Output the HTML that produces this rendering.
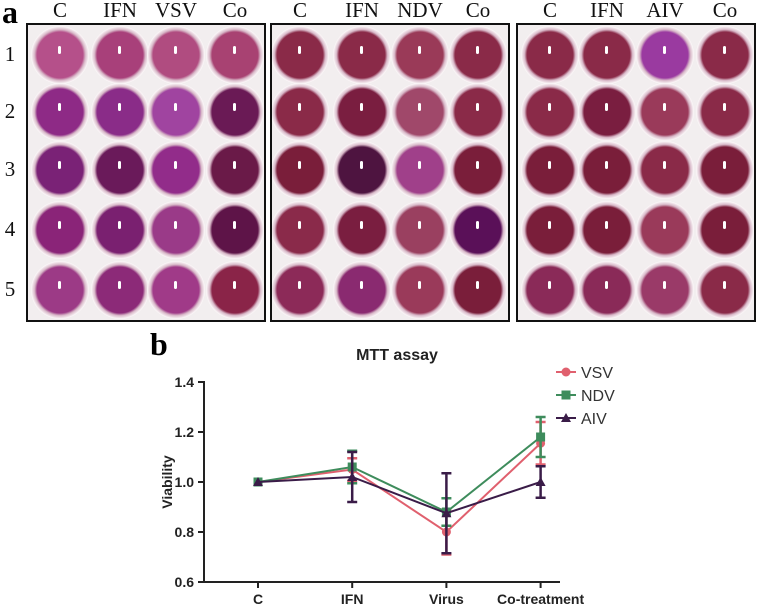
<!DOCTYPE html>
<html><head><meta charset="utf-8"><style>
body{margin:0;background:#fff;width:762px;height:604px;overflow:hidden;position:relative;font-family:"Liberation Serif",serif}
.t{position:absolute;font-size:21px;color:#111;transform:translateX(-50%)}
.plate{position:absolute;border:2px solid #111;background:#f2eeef;overflow:hidden;box-sizing:border-box}
.well{position:absolute;border-radius:50%}
</style></head><body>
<div style="position:absolute;left:2px;top:-6px;font-size:32px;font-weight:bold">a</div>
<div style="position:absolute;left:150px;top:326px;font-size:32px;font-weight:bold">b</div>
<div id="plates"></div>
<svg id="chart" width="762" height="604" style="position:absolute;left:0;top:0"></svg>
<script>
const P=document.getElementById('plates');
const panels=[{x:26,w:240,cols:[60,120,176,235],labels:['C','IFN','VSV','Co']},
{x:270,w:240,cols:[300,362,420,478],labels:['C','IFN','NDV','Co']},
{x:516,w:240,cols:[550,607,665,725],labels:['C','IFN','AIV','Co']}];
const rowsY=[55,112,170,230,290];
const colors=[
['#b5508a','#a8407a','#b04c80','#a84272','#8e2a86','#8a2c88','#a044a0','#6a1a55','#7a2276','#6a1a5a','#922c8a','#6a1a48','#8a2478','#7a2070','#9a3a88','#5e1448','#9c3a86','#8c2a78','#a03a88','#8a2448'],
['#8a2a48','#8a2a48','#9a3a58','#8a2a48','#8a2a48','#7a1e40','#a0486a','#8a2a48','#7a1e3a','#4e1440','#a0408a','#7a1e3a','#8a2a4a','#7a1e40','#9a4060','#5a1058','#8c2a58','#8a2a70','#9a3a5a','#7a1e3a'],
['#8a2a48','#8a2a48','#9a3aa0','#8a2a48','#8a2a48','#7a1e40','#9a3a5a','#8a2a48','#7a1e3a','#7a1e3a','#8a2a48','#7a1e3a','#7a1e3a','#7a1e3a','#9a3a5a','#7a1e3a','#8a2a58','#8a2a58','#9a3a68','#8a2a48']];
panels.forEach((p,pi)=>{
  const d=document.createElement('div');d.className='plate';
  
  
  d.style.cssText=`left:${p.x}px;top:23px;width:${p.w}px;height:299px`;
  P.appendChild(d);
  p.labels.forEach((l,i)=>{const t=document.createElement('div');t.className='t';t.textContent=l;
    
    
    t.style.left=p.cols[i]+'px';t.style.top='-2px';document.body.appendChild(t);});
  rowsY.forEach((y,r)=>p.cols.forEach((x,c)=>{
    const w=document.createElement('div');w.className='well';
    
    
    const col=colors[pi][r*4+c];
    w.style.cssText=`left:${x-p.x-29-2}px;top:${y-23-29-2}px;width:58px;height:58px;background:radial-gradient(circle at 50% 50%, ${col} 0, ${col} 56%, #d8b8c8 62%, #fbf7f8 70%, #e6d8e0 100%)`;
    d.appendChild(w);
    const h=document.createElement('div');h.style.cssText=`position:absolute;left:27px;top:20px;width:3px;height:8px;background:#fff;border-radius:2px`;w.appendChild(h);
  }));
});
rowsY.forEach((y,i)=>{const t=document.createElement('div');t.className='t';t.textContent=i+1;
  
  
  t.style.left='10px';t.style.top=(y-13)+'px';document.body.appendChild(t);});

// chart data
const categories=['C','IFN','Virus','Co-treatment'];
const vsv=[1.0,1.05,0.80,1.155];
const vsvErr=[0,0.045,0.09,0.085];
const ndv=[1.0,1.06,0.88,1.18];
const ndvErr=[0,0.065,0.055,0.08];
const aiv=[1.0,1.02,0.875,1.0];
const aivErr=[0,0.10,0.16,0.063];
const yTicks=['0.6','0.8','1.0','1.2','1.4'];
const seriesNames=['VSV','NDV','AIV'];

const S=document.getElementById('chart'),NS='http://www.w3.org/2000/svg';
const xs=i=>258+i*94.2;
const ys=v=>582-(v-0.6)*250;
function el(tag,a,parent){const e=document.createElementNS(NS,tag);for(const k in a)e.setAttribute(k,a[k]);(parent||S).appendChild(e);return e;}
const F='Liberation Sans, sans-serif';
let e;
e=el('line',{x1:204,y1:381,x2:204,y2:583,stroke:'#222','stroke-width':2});

e=el('line',{x1:203,y1:582,x2:560,y2:582,stroke:'#222','stroke-width':2});

yTicks.forEach(t=>{const y=ys(+t);el('line',{x1:198,y1:y,x2:204,y2:y,stroke:'#222','stroke-width':2});
  e=el('text',{x:194,y:y+5,'text-anchor':'end','font-family':F,'font-size':14,'font-weight':'bold',fill:'#222'});e.textContent=t;
  });
categories.forEach((c,i)=>{el('line',{x1:xs(i),y1:582,x2:xs(i),y2:588,stroke:'#222','stroke-width':2});
  e=el('text',{x:xs(i),y:604,'text-anchor':'middle','font-family':F,'font-size':14,'font-weight':'bold',fill:'#222'});e.textContent=c;
  });
e=el('text',{x:397,y:360,'text-anchor':'middle','font-family':F,'font-size':16,'font-weight':'bold',fill:'#222'});e.textContent='MTT assay';

e=el('text',{x:0,y:0,transform:'translate(172,482) rotate(-90)','text-anchor':'middle','font-family':F,'font-size':14,'font-weight':'bold',fill:'#222'});e.textContent='Viability';

const series=[[vsv,vsvErr,'#e0606e','circle'],[ndv,ndvErr,'#3e8c5c','square'],[aiv,aivErr,'#3a1c48','tri']];
function marker(x,y,col,sh,name){let m;
  if(sh==='circle')m=el('circle',{cx:x,cy:y,r:4.5,fill:col});
  else if(sh==='square')m=el('rect',{x:x-4.5,y:y-4.5,width:9,height:9,fill:col});
  else m=el('polygon',{points:`${x},${y-5} ${x-5},${y+4} ${x+5},${y+4}`,fill:col});
  }
series.forEach(([vals,errs,col,sh],si)=>{
  vals.forEach((v,i)=>{if(errs[i]>0){const x=xs(i);
    el('line',{x1:x,y1:ys(v-errs[i]),x2:x,y2:ys(v+errs[i]),stroke:col,'stroke-width':2.5});
    el('line',{x1:x-5,y1:ys(v-errs[i]),x2:x+5,y2:ys(v-errs[i]),stroke:col,'stroke-width':2.5});
    el('line',{x1:x-5,y1:ys(v+errs[i]),x2:x+5,y2:ys(v+errs[i]),stroke:col,'stroke-width':2.5});}});
  e=el('polyline',{points:vals.map((v,i)=>xs(i)+','+ys(v)).join(' '),fill:'none',stroke:col,'stroke-width':2});
  
  vals.forEach((v,i)=>marker(xs(i),ys(v),col,sh,'point-'+seriesNames[si].toLowerCase()));
  const ly=372+si*23;
  el('line',{x1:556,y1:ly,x2:576,y2:ly,stroke:col,'stroke-width':2});
  marker(566,ly,col,sh,'legend-marker');
  e=el('text',{x:581,y:ly+6,'font-family':F,'font-size':16,fill:'#333'});e.textContent=seriesNames[si];
  
});
</script>
</body></html>
